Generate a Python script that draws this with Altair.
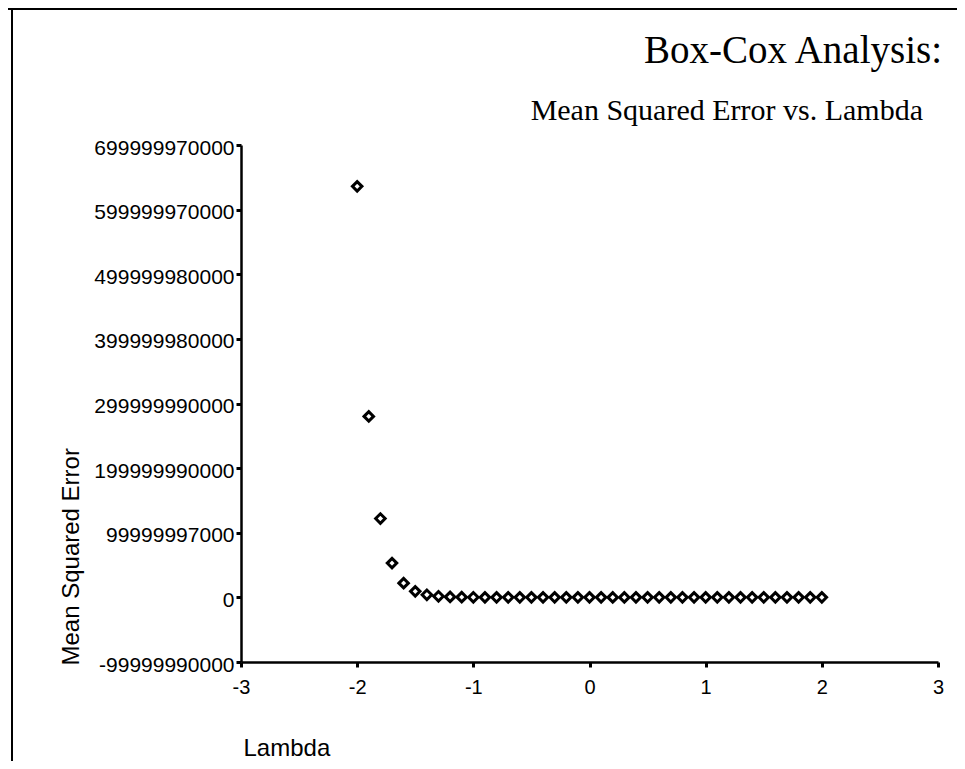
import altair as alt
import pandas as pd

# ---- data ----
lambdas = [-2.0, -1.9, -1.8, -1.7, -1.6, -1.5, -1.4, -1.3, -1.2, -1.1,
           -1.0, -0.9, -0.8, -0.7, -0.6, -0.5, -0.4, -0.3, -0.2, -0.1,
           0.0, 0.1, 0.2, 0.3, 0.4, 0.5, 0.6, 0.7, 0.8, 0.9,
           1.0, 1.1, 1.2, 1.3, 1.4, 1.5, 1.6, 1.7, 1.8, 1.9, 2.0]
mse = [6.36e11, 2.80e11, 1.22e11, 5.3e10, 2.2e10, 9.3e9, 4.0e9, 1.7e9, 7.5e8, 3.3e8,
       1.4e8, 6.0e7, 2.6e7, 1.1e7, 5.0e6, 2.2e6, 1.0e6, 5.0e5, 2.6e5, 1.5e5,
       1.0e5, 8.0e4, 7.0e4, 7.0e4, 7.5e4, 8.5e4, 1.0e5, 1.2e5, 1.5e5, 1.9e5,
       2.4e5, 3.0e5, 3.8e5, 4.8e5, 6.0e5, 7.5e5, 9.5e5, 1.2e6, 1.5e6, 1.9e6, 2.4e6]

y_tick_values = [-1e11, 0, 1e11, 2e11, 3e11, 4e11, 5e11, 6e11, 7e11]
y_tick_labels = ["-99999990000", "0", "99999997000", "199999990000", "299999990000",
                 "399999980000", "499999980000", "599999970000", "699999970000"]
x_tick_values = [-3, -2, -1, 0, 1, 2, 3]

title_text = "Box-Cox Analysis:"
subtitle_text = "Mean Squared Error vs. Lambda"
x_title = "Lambda"
y_title = "Mean Squared Error"

df = pd.DataFrame({"lambda": lambdas, "mse": mse})

# label expression built from the tick arrays
expr = "''"
for v, lab in reversed(list(zip(y_tick_values, y_tick_labels))):
    expr = f"(abs(datum.value - ({v!r})) < 1000 ? '{lab}' : {expr})"

W, H = 697, 517
SANS = "Liberation Sans"
SERIF = "Liberation Serif"

points = alt.Chart(df).mark_point(
    shape="diamond", filled=False, size=90, strokeWidth=3, color="black", opacity=1
).encode(
    x=alt.X("lambda:Q",
            scale=alt.Scale(domain=[-3, 3], nice=False, zero=False),
            axis=alt.Axis(values=x_tick_values, labelExpr="toString(datum.value)",
                          grid=False,
                          domainColor="black", domainWidth=2.5,
                          tickColor="black", tickSize=5, tickWidth=3,
                          labelFont=SANS, labelFontSize=20, labelColor="black",
                          labelPadding=10, labelFlush=False,
                          title=x_title, titleFont=SANS, titleFontSize=24,
                          titleFontWeight="normal", titleColor="black",
                          titleAnchor="start", titleAlign="left",
                          titleBaseline="alphabetic", titleX=2, titleY=93)),
    y=alt.Y("mse:Q",
            scale=alt.Scale(domain=[-1e11, 7e11], nice=False, zero=False),
            axis=alt.Axis(values=y_tick_values, labelExpr=expr, grid=False,
                          domainColor="black", domainWidth=2.5,
                          tickColor="black", tickSize=5, tickWidth=3,
                          labelFont=SANS, labelFontSize=21, labelColor="black",
                          labelPadding=2, labelOffset=3, labelFlush=False,
                          labelOverlap=False,
                          title=y_title, titleFont=SANS, titleFontSize=24,
                          titleFontWeight="normal", titleColor="black",
                          titleAngle=270, titleAlign="left",
                          titleBaseline="alphabetic", titleX=-163, titleY=520)),
)

title = alt.Chart(pd.DataFrame({"t": [title_text]})).mark_text(
    font=SERIF, fontSize=39, align="right", baseline="alphabetic", color="black"
).encode(text="t:N", x=alt.value(701), y=alt.value(-82))

subtitle = alt.Chart(pd.DataFrame({"t": [subtitle_text]})).mark_text(
    font=SERIF, fontSize=30, align="right", baseline="alphabetic", color="black"
).encode(text="t:N", x=alt.value(682), y=alt.value(-25))

# frame of the scanned figure
left_frame = alt.Chart(pd.DataFrame({"a": [0]})).mark_rule(
    color="black", strokeWidth=2
).encode(x=alt.value(-229), y=alt.value(-136), y2=alt.value(616))
top_frame = alt.Chart(pd.DataFrame({"a": [0]})).mark_rule(
    color="black", strokeWidth=2
).encode(x=alt.value(-233), x2=alt.value(716), y=alt.value(-136))

chart = alt.layer(left_frame, top_frame, points, title, subtitle).properties(
    width=W, height=H,
    background="white",
    autosize=alt.AutoSizeParams(type="none"),
    padding={"left": 233, "top": 137, "right": 19, "bottom": 99},
).configure_view(stroke=None, strokeWidth=0)

chart.save("out.html", embed_options={"renderer": "svg", "actions": False})
